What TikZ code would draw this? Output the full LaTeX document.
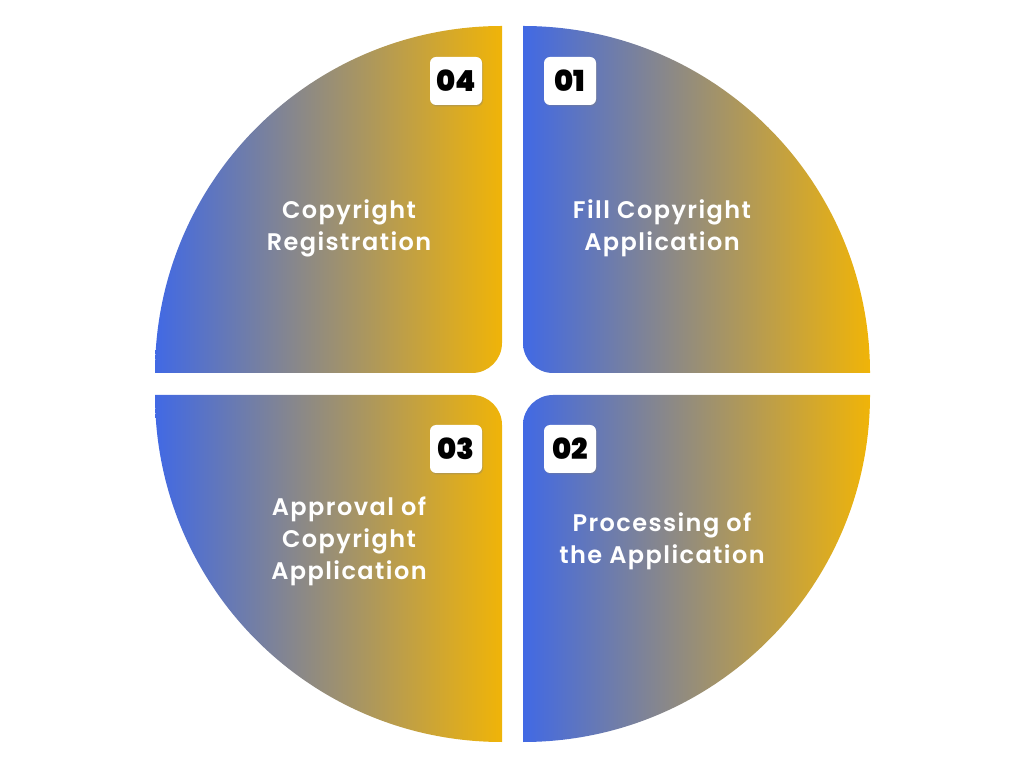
\documentclass[tikz,border=0pt]{standalone}
\usepackage{fontspec}
\setmainfont{Poppins}
\newfontfamily\badgefont{Poppins Black}
\newfontfamily\labelfont{Poppins SemiBold}[LetterSpace=6]
\usepackage{tikz}
\usetikzlibrary{shadows,calc}
\definecolor{qblue}{RGB}{65,105,228}
\definecolor{qgold}{RGB}{240,180,8}
\begin{document}
\begin{tikzpicture}[
    x=1pt, y=1pt,
    quadpath/.style={left color=qblue, right color=qgold},
    badgenode/.style={rectangle, fill=white, rounded corners=6pt, minimum width=52pt, minimum height=48pt,
        inner sep=0pt, font=\badgefont\fontsize{29}{29}\selectfont,
        drop shadow={opacity=0.35, shadow xshift=1pt, shadow yshift=-1.5pt}},
    labelnode/.style={align=center, text=white, font=\labelfont\fontsize{24}{32}\selectfont}
]
    \useasboundingbox (0,0) rectangle (1024,768);

    % Quadrants
    \foreach \cx/\cy/\a in {523/395/0, 502/395/90, 502/373/180, 523/373/270}{
        \path[quadpath] ($(\cx,\cy)+(\a:30pt)$) -- ($(\cx,\cy)+(\a:347pt)$)
            arc[start angle=\a, end angle=\a+90, radius=347pt]
            -- ($(\cx,\cy)+(\a+90:30pt)$)
            arc[start angle=\a+180, end angle=\a+270, radius=30pt] -- cycle;
    }

    % Badges
    \node[badgenode] (b4) at (456,687) {04};
    \node[badgenode] (b1) at (570,687) {01};
    \node[badgenode] (b3) at (456,319) {03};
    \node[badgenode] (b2) at (570,319) {02};

    % Labels
    \node[labelnode] (reg) at (349,540) {Copyright\\Registration};
    \node[labelnode] (fill) at (662,540) {Fill Copyright\\Application};
    \node[labelnode] (appr) at (349,227) {Approval of\\Copyright\\Application};
    \node[labelnode] (proc) at (662,227) {Processing of\\the Application};
\end{tikzpicture}
\end{document}
